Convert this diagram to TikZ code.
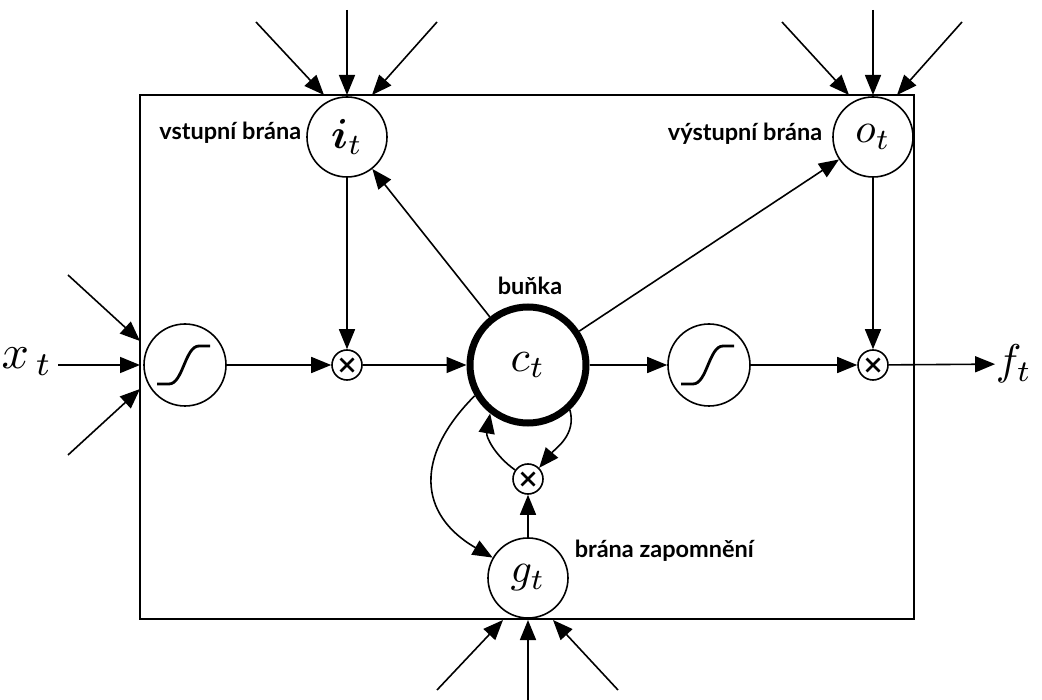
\documentclass[tikz,border=0pt]{standalone}
\usepackage{amsmath}
\usepackage{graphicx}
\usepackage{fontspec}
\newfontfamily\labelfont{Lato}
\usetikzlibrary{arrows.meta,calc}
\newcommand{\mysym}[2]{\scalebox{#1}{$#2$}}
\begin{document}
\begin{tikzpicture}[x=1pt,y=-1pt,
  line width=1.6pt,
  arr/.style={-{Triangle[length=20pt,width=16pt]}},
  gate/.style={circle,draw,line width=1.6pt,minimum size=80pt,inner sep=0pt},
  mult/.style={circle,draw,line width=1.6pt,minimum size=30pt,inner sep=0pt},
  sig/.style={circle,draw,line width=1.6pt,minimum size=82pt,inner sep=0pt},
  lbl/.style={font=\labelfont\bfseries\fontsize{23.5}{25}\selectfont,inner sep=0pt}]
\useasboundingbox (0,0) rectangle (1042,700);
% frame
\draw[line width=2.4pt] (140,95) rectangle (914,619);
% nodes
\node[gate] (it) at (347,137) {\mysym{4.2}{\boldsymbol{i}_t}};
\node[gate] (ot) at (873,137) {\mysym{4.2}{o_t}};
\node[gate] (gt) at (528,578) {\mysym{4.2}{g_t}};
\node[circle,draw,line width=7pt,minimum size=116pt,inner sep=0pt] (ct) at (528,365) {\mysym{4.4}{c_t}};
\node[sig] (s1) at (185,365) {};
\node[sig] (s2) at (709,365) {};
\node[mult] (m1) at (347,365) {};
\node[mult] (m2) at (873,365) {};
\node[mult] (m3) at (528,479) {};
\foreach \m in {m1,m2,m3}{
  \draw[line width=2.6pt] ($(\m)+(-6.5,-6.5)$) -- ($(\m)+(6.5,6.5)$);
  \draw[line width=2.6pt] ($(\m)+(-6.5,6.5)$) -- ($(\m)+(6.5,-6.5)$);
}
\foreach \m in {s1,s2}{
  \draw[line width=2.8pt] ($(\m)+(-28,19)$) -- ($(\m)+(-16,19)$) .. controls ($(\m)+(-2,19)$) and ($(\m)+(0,-19)$) .. ($(\m)+(14,-19)$) -- ($(\m)+(25,-19)$);
}
% texts
\node[inner sep=0pt] (xt) at (27,362) {\mysym{4.8}{x_{\,t}}};
\node[inner sep=0pt] (ft) at (1014,364) {\mysym{4.3}{f_t}};
\node[lbl,anchor=east] (lit) at (302,133) {vstupní brána};
\node[lbl,anchor=east] (lot) at (823,134) {výstupní brána};
\node[lbl] (lct) at (530,286) {buňka};
\node[lbl,anchor=west] (lgt) at (574,551) {brána zapomnění};
% free ends
\coordinate (a1) at (68,275); \coordinate (b1) at (140,341);
\coordinate (a2) at (58,365);  \coordinate (b2) at (140,365);
\coordinate (a3) at (68,455); \coordinate (b3) at (140,389);
\coordinate (i1) at (256,22); \coordinate (j1) at (324,95);
\coordinate (i2) at (347,10); \coordinate (j2) at (347,95);
\coordinate (i3) at (437,22); \coordinate (j3) at (372,95);
\coordinate (o1) at (782,22); \coordinate (p1) at (849,95);
\coordinate (o2) at (873,10); \coordinate (p2) at (873,95);
\coordinate (o3) at (962,22); \coordinate (p3) at (897,95);
\coordinate (g1) at (437,690); \coordinate (h1) at (503,620);
\coordinate (g2) at (528,700); \coordinate (h2) at (528,620);
\coordinate (g3) at (618,690); \coordinate (h3) at (553,620);
\foreach \u/\v in {a1/b1,a2/b2,a3/b3,i1/j1,i2/j2,i3/j3,o1/p1,o2/p2,o3/p3,g1/h1,g2/h2,g3/h3}{
  \draw[arr] (\u) -- (\v);
}
% connectors
\draw[arr] (s1) -- (m1);
\draw[arr] (it) -- (m1);
\draw[arr] (m1) -- (ct);
\draw[arr] (ct) -- (it);
\draw[arr] (ct) -- (ot);
\draw[arr] (ct) -- (s2);
\draw[arr] (s2) -- (m2);
\draw[arr] (ot) -- (m2);
\draw[arr] (m2) -- (ft);
\draw[arr] (gt) -- (m3);
\draw[arr] (m3.145) to[out=145,in=-100] (ct.-128);
\draw[arr] (ct.-47) to[out=-75,in=50] (m3.45);
\draw[arr] (ct.-150) to[out=-135,in=150,looseness=1.35] (gt.150);
\end{tikzpicture}
\end{document}
